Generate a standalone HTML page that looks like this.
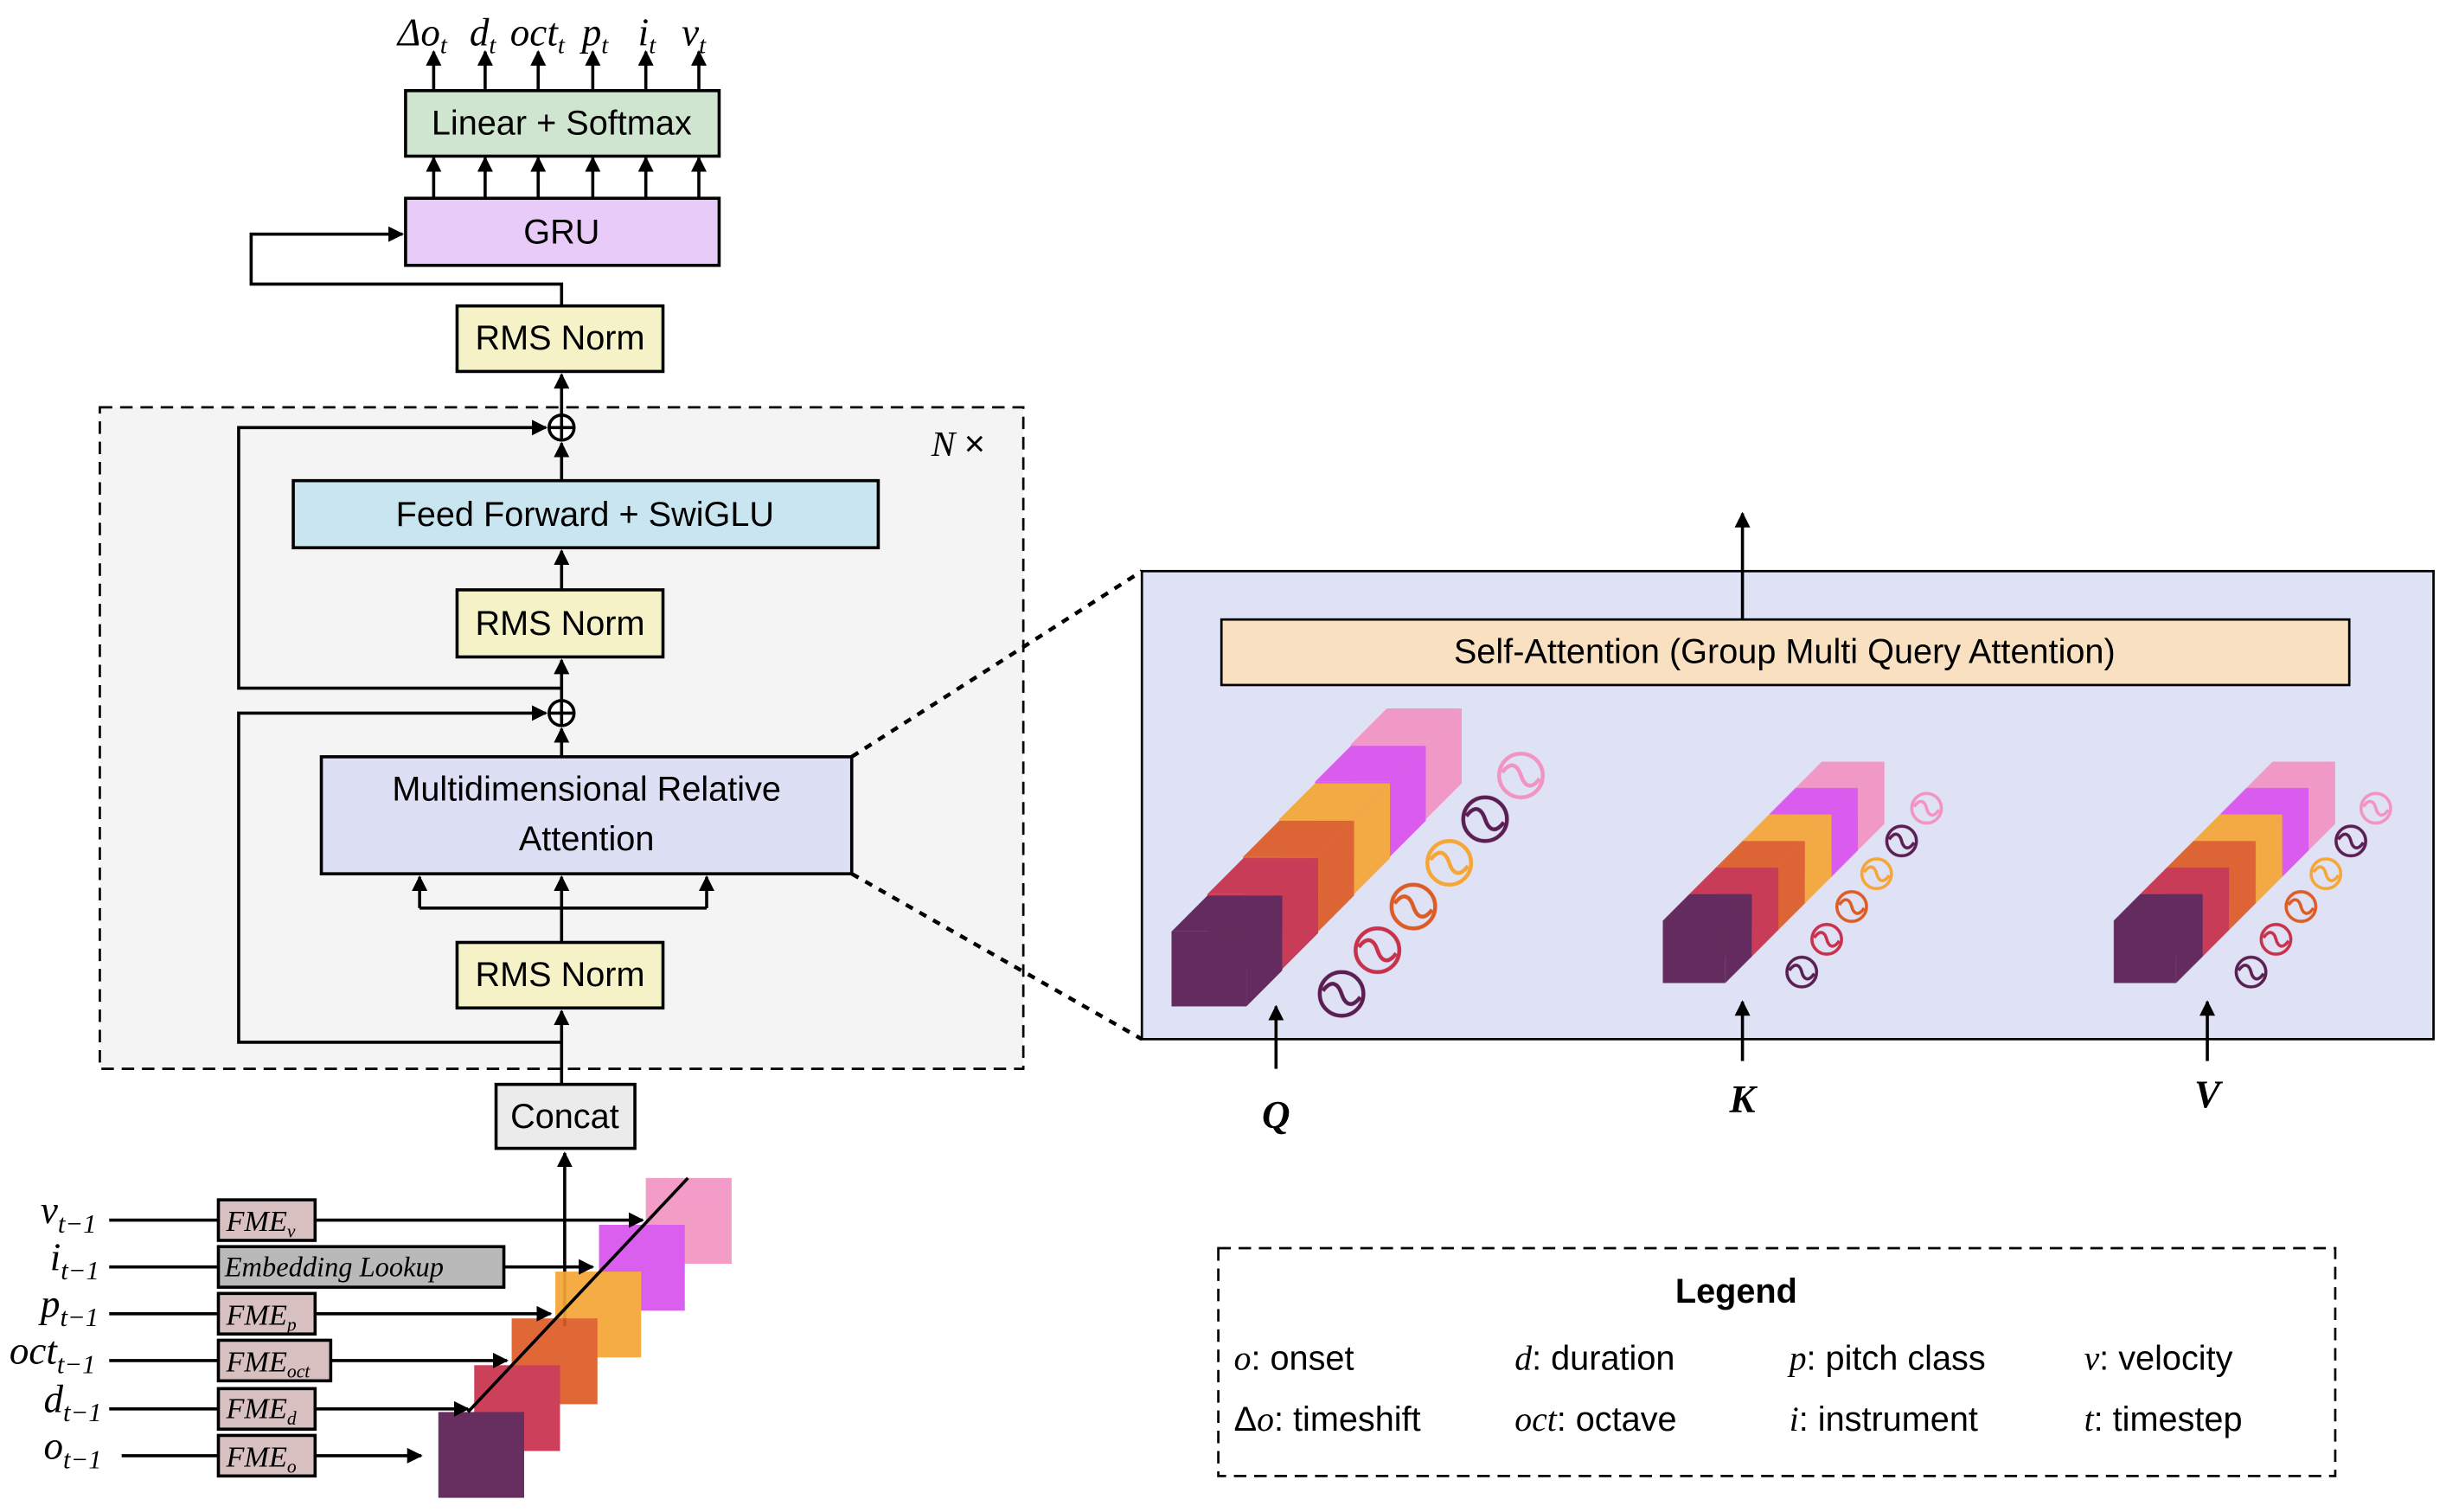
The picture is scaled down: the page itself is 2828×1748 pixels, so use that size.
<!DOCTYPE html>
<html><head><meta charset="utf-8"><style>
html,body{margin:0;padding:0;background:#fff;width:2828px;height:1748px;overflow:hidden}
svg{display:block}
.s{font-family:"Liberation Sans","DejaVu Sans",sans-serif;font-size:22px;fill:#000}
.m{font-family:"Liberation Serif",serif;font-style:italic;fill:#000}
.b{stroke:#000;stroke-width:2}
</style></head><body>
<svg width="2828" height="1748" viewBox="0 0 1568 969" xmlns="http://www.w3.org/2000/svg">
<defs>
<marker id="a" viewBox="0 0 10 10" refX="9" refY="5" markerWidth="5" markerHeight="5" orient="auto"><path d="M0,0L10,5L0,10z" fill="#000"/></marker>
</defs>
<g fill="none" stroke="#000" stroke-width="2">
<line x1="278" y1="57" x2="278" y2="33" marker-end="url(#a)"/>
<line x1="311" y1="57" x2="311" y2="33" marker-end="url(#a)"/>
<line x1="345" y1="57" x2="345" y2="33" marker-end="url(#a)"/>
<line x1="380" y1="57" x2="380" y2="33" marker-end="url(#a)"/>
<line x1="414" y1="57" x2="414" y2="33" marker-end="url(#a)"/>
<line x1="448" y1="57" x2="448" y2="33" marker-end="url(#a)"/>
<line x1="278" y1="127" x2="278" y2="101" marker-end="url(#a)"/>
<line x1="311" y1="127" x2="311" y2="101" marker-end="url(#a)"/>
<line x1="345" y1="127" x2="345" y2="101" marker-end="url(#a)"/>
<line x1="380" y1="127" x2="380" y2="101" marker-end="url(#a)"/>
<line x1="414" y1="127" x2="414" y2="101" marker-end="url(#a)"/>
<line x1="448" y1="127" x2="448" y2="101" marker-end="url(#a)"/>
<polyline points="360,196 360,182 161,182 161,150 258,150" marker-end="url(#a)"/>
</g>
<rect x="260" y="58" width="201" height="42" fill="#cfe5d0" class="b"/>
<text x="360" y="86" class="s" text-anchor="middle">Linear + Softmax</text>
<rect x="260" y="127" width="201" height="43" fill="#e8cbf9" class="b"/>
<text x="360" y="156" class="s" text-anchor="middle">GRU</text>
<g class="m" font-size="25">
<text x="255" y="29">Δo<tspan font-size="16" dy="5">t</tspan></text>
<text x="301" y="29">d<tspan font-size="16" dy="5">t</tspan></text>
<text x="327" y="29">oct<tspan font-size="16" dy="5">t</tspan></text>
<text x="373" y="29">p<tspan font-size="16" dy="5">t</tspan></text>
<text x="409" y="29">i<tspan font-size="16" dy="5">t</tspan></text>
<text x="437" y="29">v<tspan font-size="16" dy="5">t</tspan></text>
</g>
<rect x="293" y="196" width="132" height="42" fill="#f4f2c6" class="b"/>
<text x="359" y="224" class="s" text-anchor="middle">RMS Norm</text>

<rect x="64" y="261" width="592" height="424" fill="#f4f4f4" stroke="#000" stroke-width="1.5" stroke-dasharray="8,5"/>
<text x="597" y="292" class="m" font-size="23">N <tspan font-style="normal" font-family="Liberation Sans">×</tspan></text>
<g fill="none" stroke="#000" stroke-width="2">
<line x1="360" y1="266" x2="360" y2="240" marker-end="url(#a)"/>
<line x1="360" y1="308" x2="360" y2="284" marker-end="url(#a)"/>
<line x1="360" y1="378" x2="360" y2="353" marker-end="url(#a)"/>
<line x1="360" y1="449" x2="360" y2="423" marker-end="url(#a)"/>
<line x1="360" y1="485" x2="360" y2="467" marker-end="url(#a)"/>
<polyline points="360,441 153,441 153,274 350,274" marker-end="url(#a)"/>
<polyline points="360,668 153,668 153,457 350,457" marker-end="url(#a)"/>
<line x1="360" y1="604" x2="360" y2="582"/>
<line x1="269" y1="582" x2="453" y2="582"/>
<line x1="269" y1="582" x2="269" y2="562" marker-end="url(#a)"/>
<line x1="360" y1="582" x2="360" y2="562" marker-end="url(#a)"/>
<line x1="453" y1="582" x2="453" y2="562" marker-end="url(#a)"/>
<line x1="360" y1="695" x2="360" y2="648" marker-end="url(#a)"/>
<line x1="362" y1="850" x2="362" y2="739" marker-end="url(#a)"/>
<circle cx="360" cy="274" r="8" fill="#fff"/><line x1="352" y1="274" x2="368" y2="274"/><line x1="360" y1="266" x2="360" y2="282"/>
<circle cx="360" cy="457" r="8" fill="#fff"/><line x1="352" y1="457" x2="368" y2="457"/><line x1="360" y1="449" x2="360" y2="465"/>
</g>
<rect x="188" y="308" width="375" height="43" fill="#c9e6f0" class="b"/>
<text x="375" y="337" class="s" text-anchor="middle">Feed Forward + SwiGLU</text>
<rect x="293" y="378" width="132" height="43" fill="#f4f2c6" class="b"/>
<text x="359" y="407" class="s" text-anchor="middle">RMS Norm</text>
<rect x="206" y="485" width="340" height="75" fill="#dde0f5" class="b"/>
<text x="376" y="513" class="s" text-anchor="middle">Multidimensional Relative</text>
<text x="376" y="545" class="s" text-anchor="middle">Attention</text>
<rect x="293" y="604" width="132" height="42" fill="#f4f2c6" class="b"/>
<text x="359" y="632" class="s" text-anchor="middle">RMS Norm</text>
<rect x="318" y="695" width="89" height="41" fill="#ebebeb" class="b"/>
<text x="362" y="723" class="s" text-anchor="middle">Concat</text>

<g opacity="0.92">
<rect x="414" y="755" width="55" height="55" fill="#f294c2"/>
<rect x="384" y="785" width="55" height="55" fill="#d952ee"/>
<rect x="356" y="815" width="55" height="55" fill="#f5a636"/>
<rect x="328" y="845" width="55" height="55" fill="#dd5c26"/>
<rect x="304" y="875" width="55" height="55" fill="#c8304b"/>
<rect x="281" y="905" width="55" height="55" fill="#5a1e52"/>
</g>
<line x1="300" y1="905" x2="441" y2="755" stroke="#000" stroke-width="2"/>
<g fill="none" stroke="#000" stroke-width="2">
<line x1="70" y1="782" x2="140" y2="782"/><line x1="202" y1="782" x2="412" y2="782" marker-end="url(#a)"/>
<line x1="70" y1="812" x2="140" y2="812"/><line x1="323" y1="812" x2="380" y2="812" marker-end="url(#a)"/>
<line x1="70" y1="842" x2="140" y2="842"/><line x1="202" y1="842" x2="353" y2="842" marker-end="url(#a)"/>
<line x1="70" y1="872" x2="140" y2="872"/><line x1="212" y1="872" x2="325" y2="872" marker-end="url(#a)"/>
<line x1="70" y1="903" x2="140" y2="903"/><line x1="202" y1="903" x2="300" y2="903" marker-end="url(#a)"/>
<line x1="78" y1="933" x2="140" y2="933"/><line x1="202" y1="933" x2="270" y2="933" marker-end="url(#a)"/>
</g>
<g class="b">
<rect x="140" y="769" width="62" height="26" fill="#d8c0c1"/>
<rect x="140" y="799" width="183" height="26" fill="#b9b9b9"/>
<rect x="140" y="829" width="62" height="26" fill="#d8c0c1"/>
<rect x="140" y="859" width="72" height="26" fill="#d8c0c1"/>
<rect x="140" y="890" width="62" height="26" fill="#d8c0c1"/>
<rect x="140" y="920" width="62" height="26" fill="#d8c0c1"/>
</g>
<g class="m" font-size="19">
<text x="145" y="789">FME<tspan font-size="12" dy="4">v</tspan></text>
<text x="144" y="818" font-size="18">Embedding Lookup</text>
<text x="145" y="849">FME<tspan font-size="12" dy="4">p</tspan></text>
<text x="145" y="879">FME<tspan font-size="12" dy="4">oct</tspan></text>
<text x="145" y="909">FME<tspan font-size="12" dy="4">d</tspan></text>
<text x="145" y="940">FME<tspan font-size="12" dy="4">o</tspan></text>
</g>
<g class="m" font-size="25">
<text x="26" y="784">v<tspan font-size="17" dy="6">t−1</tspan></text>
<text x="32" y="814">i<tspan font-size="17" dy="6">t−1</tspan></text>
<text x="26" y="844">p<tspan font-size="17" dy="6">t−1</tspan></text>
<text x="6" y="874">oct<tspan font-size="17" dy="6">t−1</tspan></text>
<text x="28" y="905">d<tspan font-size="17" dy="6">t−1</tspan></text>
<text x="28" y="935">o<tspan font-size="17" dy="6">t−1</tspan></text>
</g>

<g stroke="#000" stroke-width="2.5" stroke-dasharray="5,5">
<line x1="546" y1="485" x2="732" y2="366"/>
<line x1="546" y1="560" x2="732" y2="666"/>
</g>
<rect x="732" y="366" width="828" height="300" fill="#dfe2f4" stroke="#000" stroke-width="1.5"/>
<line x1="1117" y1="397" x2="1117" y2="329" stroke="#000" stroke-width="2" marker-end="url(#a)"/>
<rect x="783" y="397" width="723" height="42" fill="#f8e0c1" stroke="#000" stroke-width="1.5"/>
<text x="1144" y="425" class="s" text-anchor="middle">Self-Attention (Group Multi Query Attention)</text>

<g fill="none" stroke="#000" stroke-width="2">
<line x1="818" y1="685" x2="818" y2="645" marker-end="url(#a)"/>
<line x1="1117" y1="680" x2="1117" y2="642" marker-end="url(#a)"/>
<line x1="1415" y1="680" x2="1415" y2="642" marker-end="url(#a)"/>
</g>
<g class="m" font-size="25" font-weight="bold" text-anchor="middle">
<text x="818" y="723">Q</text><text x="1117" y="713">K</text><text x="1415" y="710">V</text>
</g>

<rect x="781" y="800" width="716" height="146" fill="#fff" stroke="#000" stroke-width="1.5" stroke-dasharray="8,5"/>
<text x="1113" y="835" class="s" font-weight="bold" text-anchor="middle">Legend</text>
<g class="s">
<text x="791" y="878"><tspan class="m">o</tspan>: onset</text>
<text x="971" y="878"><tspan class="m">d</tspan>: duration</text>
<text x="1147" y="878"><tspan class="m">p</tspan>: pitch class</text>
<text x="1336" y="878"><tspan class="m">v</tspan>: velocity</text>
<text x="791" y="917">Δ<tspan class="m">o</tspan>: timeshift</text>
<text x="971" y="917"><tspan class="m">oct</tspan>: octave</text>
<text x="1147" y="917"><tspan class="m">i</tspan>: instrument</text>
<text x="1336" y="917"><tspan class="m">t</tspan>: timestep</text>
</g>

<g opacity="0.93">
<g transform="translate(0,4)">
<polygon points="866,473 889,450 937,450 914,473" fill="#f294c2"/><polygon points="914,473 937,450 937,498 914,521" fill="#f294c2"/><rect x="866" y="473" width="48" height="48" fill="#f294c2"/>
<polygon points="843,497 866,474 914,474 891,497" fill="#d952ee"/><polygon points="891,497 914,474 914,522 891,545" fill="#d952ee"/><rect x="843" y="497" width="48" height="48" fill="#d952ee"/>
<polygon points="820,521 843,498 891,498 868,521" fill="#f5a636"/><polygon points="868,521 891,498 891,546 868,569" fill="#f5a636"/><rect x="820" y="521" width="48" height="48" fill="#f5a636"/>
<polygon points="797,545 820,522 868,522 845,545" fill="#dd5c26"/><polygon points="845,545 868,522 868,570 845,593" fill="#dd5c26"/><rect x="797" y="545" width="48" height="48" fill="#dd5c26"/>
<polygon points="774,569 797,546 845,546 822,569" fill="#c8304b"/><polygon points="822,569 845,546 845,594 822,617" fill="#c8304b"/><rect x="774" y="569" width="48" height="48" fill="#c8304b"/>
<polygon points="751,593 774,570 822,570 799,593" fill="#5a1e52"/><polygon points="799,593 822,570 822,618 799,641" fill="#5a1e52"/><rect x="751" y="593" width="48" height="48" fill="#5a1e52"/>
</g>
<g>
<polygon points="1151,505 1168,488 1208,488 1191,505" fill="#f294c2"/><polygon points="1191,505 1208,488 1208,528 1191,545" fill="#f294c2"/><rect x="1151" y="505" width="40" height="40" fill="#f294c2"/>
<polygon points="1134,522 1151,505 1191,505 1174,522" fill="#d952ee"/><polygon points="1174,522 1191,505 1191,545 1174,562" fill="#d952ee"/><rect x="1134" y="522" width="40" height="40" fill="#d952ee"/>
<polygon points="1117,539 1134,522 1174,522 1157,539" fill="#f5a636"/><polygon points="1157,539 1174,522 1174,562 1157,579" fill="#f5a636"/><rect x="1117" y="539" width="40" height="40" fill="#f5a636"/>
<polygon points="1100,556 1117,539 1157,539 1140,556" fill="#dd5c26"/><polygon points="1140,556 1157,539 1157,579 1140,596" fill="#dd5c26"/><rect x="1100" y="556" width="40" height="40" fill="#dd5c26"/>
<polygon points="1083,573 1100,556 1140,556 1123,573" fill="#c8304b"/><polygon points="1123,573 1140,556 1140,596 1123,613" fill="#c8304b"/><rect x="1083" y="573" width="40" height="40" fill="#c8304b"/>
<polygon points="1066,590 1083,573 1123,573 1106,590" fill="#5a1e52"/><polygon points="1106,590 1123,573 1123,613 1106,630" fill="#5a1e52"/><rect x="1066" y="590" width="40" height="40" fill="#5a1e52"/>
</g>
<g>
<polygon points="1440,505 1457,488 1497,488 1480,505" fill="#f294c2"/><polygon points="1480,505 1497,488 1497,528 1480,545" fill="#f294c2"/><rect x="1440" y="505" width="40" height="40" fill="#f294c2"/>
<polygon points="1423,522 1440,505 1480,505 1463,522" fill="#d952ee"/><polygon points="1463,522 1480,505 1480,545 1463,562" fill="#d952ee"/><rect x="1423" y="522" width="40" height="40" fill="#d952ee"/>
<polygon points="1406,539 1423,522 1463,522 1446,539" fill="#f5a636"/><polygon points="1446,539 1463,522 1463,562 1446,579" fill="#f5a636"/><rect x="1406" y="539" width="40" height="40" fill="#f5a636"/>
<polygon points="1389,556 1406,539 1446,539 1429,556" fill="#dd5c26"/><polygon points="1429,556 1446,539 1446,579 1429,596" fill="#dd5c26"/><rect x="1389" y="556" width="40" height="40" fill="#dd5c26"/>
<polygon points="1372,573 1389,556 1429,556 1412,573" fill="#c8304b"/><polygon points="1412,573 1429,556 1429,596 1412,613" fill="#c8304b"/><rect x="1372" y="573" width="40" height="40" fill="#c8304b"/>
<polygon points="1355,590 1372,573 1412,573 1395,590" fill="#5a1e52"/><polygon points="1395,590 1412,573 1412,613 1395,630" fill="#5a1e52"/><rect x="1355" y="590" width="40" height="40" fill="#5a1e52"/>
</g>
</g>
<g fill="none" stroke-width="2.5">
<g transform="translate(860,637)" stroke="#5a1e52"><circle r="14"/><path d="M-12,-2 C-6,-10 -2,-6 0,0 S6,10 12,2"/></g>
<g transform="translate(883,609)" stroke="#c8304b"><circle r="14"/><path d="M-12,-2 C-6,-10 -2,-6 0,0 S6,10 12,2"/></g>
<g transform="translate(906,581)" stroke="#dd5c26"><circle r="14"/><path d="M-12,-2 C-6,-10 -2,-6 0,0 S6,10 12,2"/></g>
<g transform="translate(929,553)" stroke="#f5a636"><circle r="14"/><path d="M-12,-2 C-6,-10 -2,-6 0,0 S6,10 12,2"/></g>
<g transform="translate(952,525)" stroke="#5a1e52"><circle r="14"/><path d="M-12,-2 C-6,-10 -2,-6 0,0 S6,10 12,2"/></g>
<g transform="translate(975,497)" stroke="#f294c2"><circle r="14"/><path d="M-12,-2 C-6,-10 -2,-6 0,0 S6,10 12,2"/></g>
</g>
<g fill="none" stroke-width="2">
<g stroke="#5a1e52" transform="translate(1155,623)"><circle r="9.5"/><path d="M-8,-1 C-4,-7 -1,-4 0,0 S4,7 8,1"/></g>
<g stroke="#c8304b" transform="translate(1171,602)"><circle r="9.5"/><path d="M-8,-1 C-4,-7 -1,-4 0,0 S4,7 8,1"/></g>
<g stroke="#dd5c26" transform="translate(1187,581)"><circle r="9.5"/><path d="M-8,-1 C-4,-7 -1,-4 0,0 S4,7 8,1"/></g>
<g stroke="#f5a636" transform="translate(1203,560)"><circle r="9.5"/><path d="M-8,-1 C-4,-7 -1,-4 0,0 S4,7 8,1"/></g>
<g stroke="#5a1e52" transform="translate(1219,539)"><circle r="9.5"/><path d="M-8,-1 C-4,-7 -1,-4 0,0 S4,7 8,1"/></g>
<g stroke="#f294c2" transform="translate(1235,518)"><circle r="9.5"/><path d="M-8,-1 C-4,-7 -1,-4 0,0 S4,7 8,1"/></g>
<g stroke="#5a1e52" transform="translate(1443,623)"><circle r="9.5"/><path d="M-8,-1 C-4,-7 -1,-4 0,0 S4,7 8,1"/></g>
<g stroke="#c8304b" transform="translate(1459,602)"><circle r="9.5"/><path d="M-8,-1 C-4,-7 -1,-4 0,0 S4,7 8,1"/></g>
<g stroke="#dd5c26" transform="translate(1475,581)"><circle r="9.5"/><path d="M-8,-1 C-4,-7 -1,-4 0,0 S4,7 8,1"/></g>
<g stroke="#f5a636" transform="translate(1491,560)"><circle r="9.5"/><path d="M-8,-1 C-4,-7 -1,-4 0,0 S4,7 8,1"/></g>
<g stroke="#5a1e52" transform="translate(1507,539)"><circle r="9.5"/><path d="M-8,-1 C-4,-7 -1,-4 0,0 S4,7 8,1"/></g>
<g stroke="#f294c2" transform="translate(1523,518)"><circle r="9.5"/><path d="M-8,-1 C-4,-7 -1,-4 0,0 S4,7 8,1"/></g>
</g>
</svg>
</body></html>
